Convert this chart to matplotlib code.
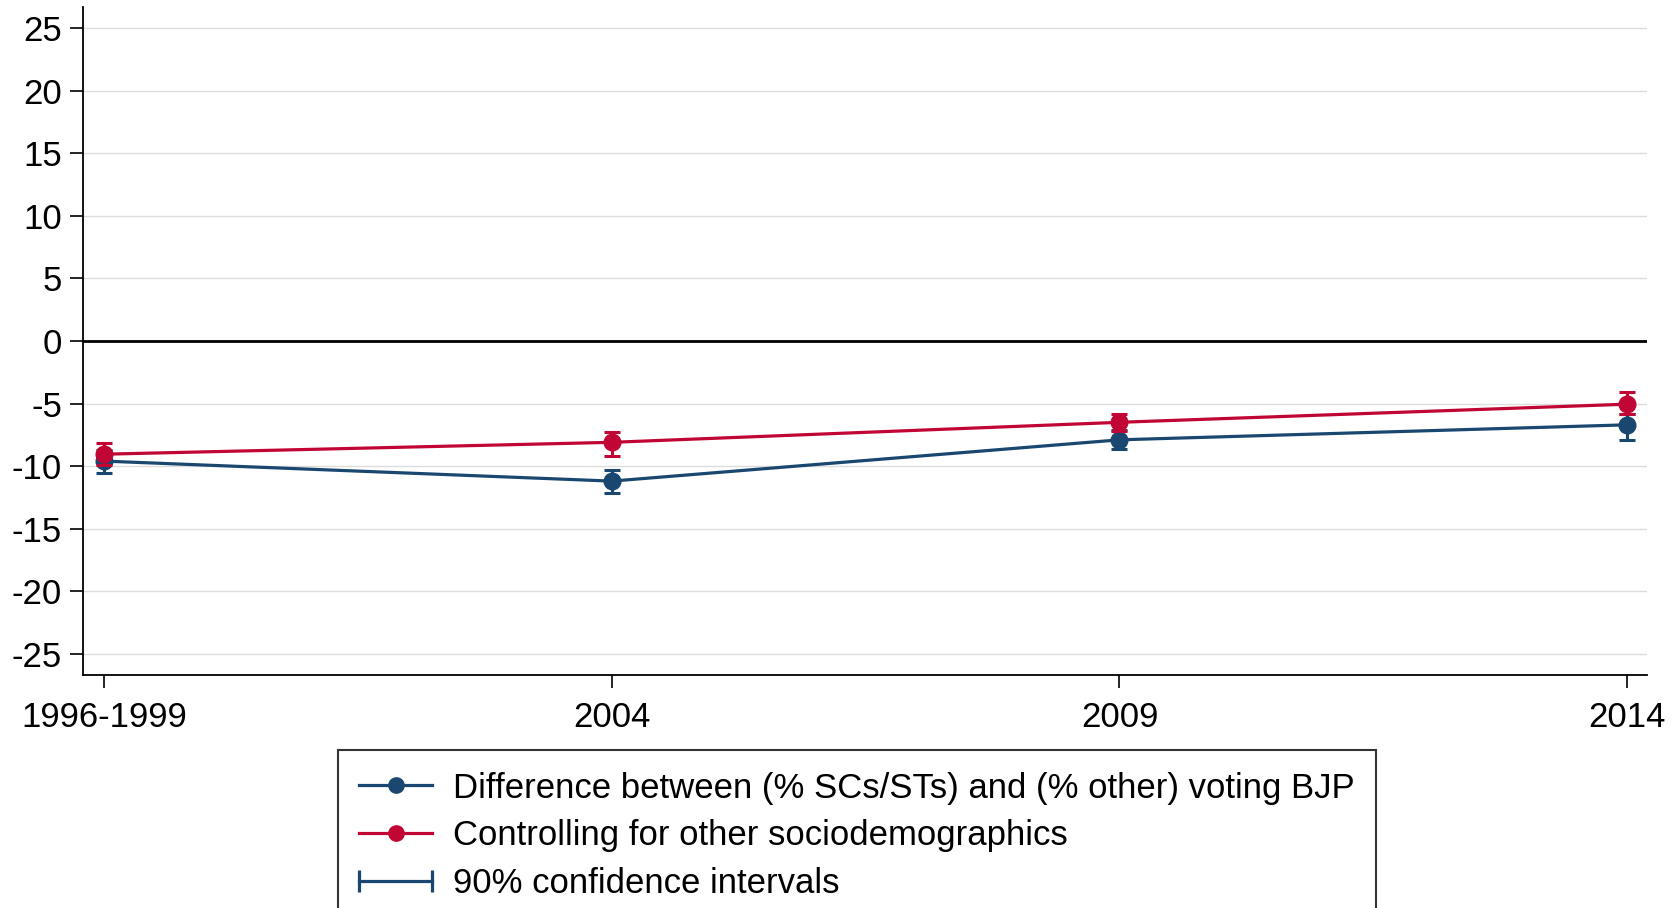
import matplotlib
matplotlib.use('Agg')
import matplotlib.pyplot as plt
from matplotlib.lines import Line2D
from matplotlib.legend_handler import HandlerLine2D

plt.rcParams['font.family'] = ['Liberation Sans', 'DejaVu Sans']
plt.rcParams['axes.unicode_minus'] = False

# data
years = ['1996-1999', '2004', '2009', '2014']
diff_vals = [-9.6, -11.2, -7.9, -6.7]
diff_lo = [-10.55, -12.15, -8.6, -7.9]
diff_hi = [-8.7, -10.35, -7.1, -5.8]
ctrl_vals = [-9.05, -8.1, -6.5, -5.05]
ctrl_lo = [-9.9, -9.2, -7.2, -5.8]
ctrl_hi = [-8.15, -7.25, -5.85, -4.05]
yticks = [-25, -20, -15, -10, -5, 0, 5, 10, 15, 20, 25]

blue = '#1a476f'
red = '#c10534'

fig = plt.figure(figsize=(16.81, 9.08), dpi=100)
ax = fig.add_axes([0.0494, 0.2566, 0.9304, 0.7357])

x = list(range(len(years)))

# light grid, black zero line
for yv in yticks:
    if yv != 0:
        ax.axhline(yv, color='#dcdcdc', lw=1.0, zorder=0)
ax.axhline(0, color='black', lw=2.0, zorder=1)


def draw(vals, lo, hi, col, z):
    err = [[v - l for v, l in zip(vals, lo)], [h - v for v, h in zip(vals, hi)]]
    ax.errorbar(x, vals, yerr=err, fmt='none', ecolor=col, elinewidth=2.2,
                capsize=6, capthick=2.2, zorder=z)
    ax.plot(x, vals, color=col, lw=2.3, marker='o', markersize=12, zorder=z + 0.5)


draw(diff_vals, diff_lo, diff_hi, blue, 2)
draw(ctrl_vals, ctrl_lo, ctrl_hi, red, 4)

ax.set_xlim(-0.041, 3.039)
ax.set_ylim(-26.7, 26.7)
ax.set_xticks(x)
ax.set_xticklabels(years)
ax.set_yticks(yticks)
ax.tick_params(axis='both', labelsize=25, length=9.5, width=1.2, color='black')
ax.tick_params(axis='y', pad=5.5)
ax.tick_params(axis='x', pad=9)
for s in ['top', 'right']:
    ax.spines[s].set_visible(False)
for s in ['left', 'bottom']:
    ax.spines[s].set_linewidth(1.3)

# legend below the plot
h1 = Line2D([], [], color=blue, lw=2.3, marker='o', markersize=11)
h2 = Line2D([], [], color=red, lw=2.3, marker='o', markersize=11)
h3 = Line2D([], [], color=blue, lw=2.3, marker='|', markersize=16, markeredgewidth=2.3)
labels = ['Difference between (% SCs/STs) and (% other) voting BJP',
          'Controlling for other sociodemographics',
          '90% confidence intervals']
leg = fig.legend([h1, h2, h3], labels, loc='upper left',
                 bbox_to_anchor=(0.201, 0.174), borderaxespad=0, fontsize=25,
                 handlelength=2.1, handletextpad=0.6, labelspacing=0.43,
                 borderpad=0.62, fancybox=False, edgecolor='black',
                 handler_map={h3: HandlerLine2D(numpoints=2, marker_pad=0)})
leg.get_frame().set_linewidth(1.5)

fig.savefig('out.png', dpi=100)
